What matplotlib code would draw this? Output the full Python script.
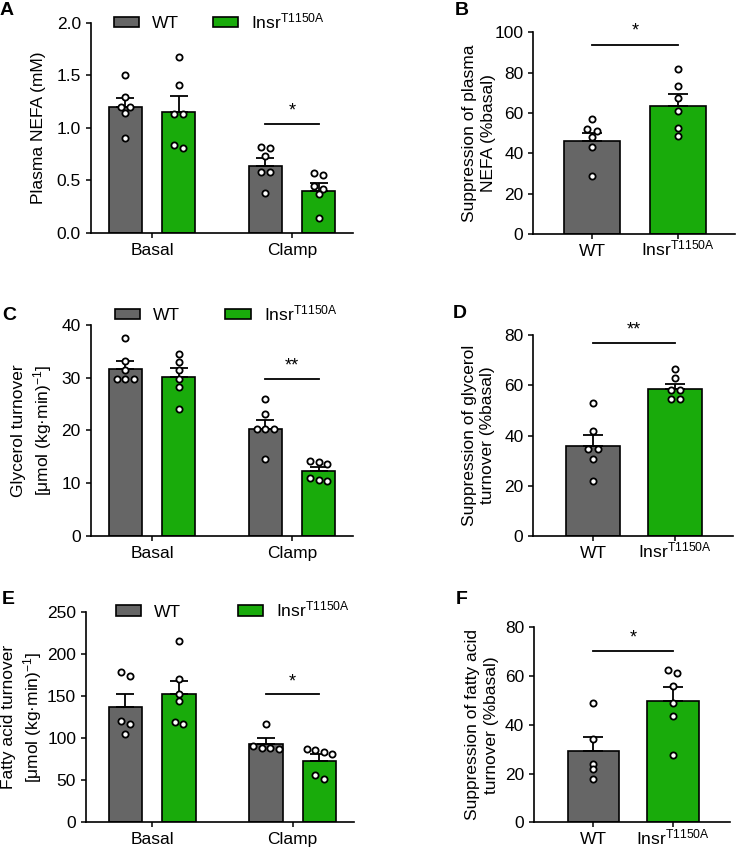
import matplotlib
matplotlib.use("Agg")
import matplotlib.pyplot as plt
import numpy as np
from matplotlib.patches import Patch

plt.rcParams["font.family"] = ["Liberation Sans", "DejaVu Sans"]
plt.rcParams["mathtext.default"] = "regular"

GREY = "#666666"
GREEN = "#19ab0b"
KO = "Insr$^{T1150A}$"

# ---- data ----
groups = ["Basal", "Clamp"]
genotypes = ["WT", KO]

# A: plasma NEFA (mM)
nefa_wt_basal = [1.50, 1.29, 1.20, 1.20, 1.14, 0.90]
nefa_ko_basal = [1.67, 1.41, 1.13, 1.13, 0.835, 0.81]
nefa_wt_clamp = [0.82, 0.81, 0.73, 0.58, 0.58, 0.38]
nefa_ko_clamp = [0.57, 0.55, 0.45, 0.42, 0.37, 0.14]
nefa_mean = [[1.20, 1.15], [0.64, 0.40]]
nefa_sem = [[0.08, 0.15], [0.075, 0.075]]

# B: suppression of NEFA (%basal)
sup_nefa_wt = [57, 52, 51, 48, 43, 29]
sup_nefa_ko = [82, 73.4, 67.4, 61.1, 52.4, 48.4]
sup_nefa_mean = [46, 63.5]
sup_nefa_sem = [4.2, 5.8]

# C: glycerol turnover
gly_wt_basal = [37.5, 33.2, 31.4, 29.7, 29.7, 29.7]
gly_ko_basal = [34.5, 33.0, 31.5, 29.7, 28.2, 24.1]
gly_wt_clamp = [26.0, 23.1, 20.3, 20.3, 20.3, 14.6]
gly_ko_clamp = [14.3, 14.0, 13.6, 11.0, 10.6, 10.4]
gly_mean = [[31.7, 30.1], [20.2, 12.4]]
gly_sem = [[1.5, 1.7], [1.8, 0.7]]

# D: suppression of glycerol turnover (%basal)
sup_gly_wt = [52.8, 41.9, 34.5, 34.5, 30.8, 22.0]
sup_gly_ko = [66.6, 62.8, 58.0, 58.0, 54.4, 54.4]
sup_gly_mean = [35.8, 58.4]
sup_gly_sem = [4.5, 2.1]

# E: fatty acid turnover
fa_wt_basal = [178, 173.6, 119.8, 116.3, 104.4]
fa_ko_basal = [215, 169.7, 152.3, 143.6, 119, 116.6]
fa_wt_clamp = [116.3, 90, 88, 88, 87]
fa_ko_clamp = [87, 86, 84, 81, 55.8, 51.7]
fa_mean = [[137.2, 151.9], [93.3, 73.1]]
fa_sem = [[15.4, 15.8], [6.7, 7.6]]

# F: suppression of fatty acid turnover (%basal)
sup_fa_wt = [49, 34.3, 23.9, 22.0, 17.6]
sup_fa_ko = [62.4, 61.3, 55.9, 49.1, 43.6, 27.6]
sup_fa_mean = [29.1, 49.8]
sup_fa_sem = [6.0, 5.6]

W, H = 736, 848
fig = plt.figure(figsize=(W / 100, H / 100), dpi=100)
FS = 12.5


def make_ax(left, right, top, bottom):
    """axes from pixel box"""
    ax = fig.add_axes([left / W, 1 - bottom / H, (right - left) / W, (bottom - top) / H])
    for s in ["top", "right"]:
        ax.spines[s].set_visible(False)
    for s in ["left", "bottom"]:
        ax.spines[s].set_linewidth(1.2)
    ax.tick_params(width=1.1, length=3.6, labelsize=FS)
    ax.tick_params(axis="x", pad=12)
    return ax


def fix_xlabels(ax):
    # baseline alignment so the superscript label sits level with the plain one
    for t in ax.get_xticklabels():
        t.set_verticalalignment("baseline")


def spread(ax, values, center, step, tol):
    """simple beeswarm: points at similar heights spread sideways"""
    vals = sorted(values, reverse=True)
    rows = []
    for v in vals:
        if rows and abs(rows[-1][-1] - v) < tol:
            rows[-1].append(v)
        else:
            rows.append([v])
    xs, ys = [], []
    for r in rows:
        n = len(r)
        for i, v in enumerate(r):
            xs.append(center + (i - (n - 1) / 2) * step)
            ys.append(v)
    ax.scatter(xs, ys, s=20, facecolor="white", edgecolor="black", linewidth=1.3, zorder=5)


def bar(ax, x, mean, sem, color, width, capsize):
    ax.bar(x, mean, width, color=color, edgecolor="black", linewidth=1.2, zorder=2)
    ax.errorbar(x, mean, yerr=[[0], [sem]], fmt="none", ecolor="black",
                elinewidth=1.3, capsize=capsize, capthick=1.3, zorder=3)


def sig(ax, x0, x1, y, text, dy):
    ax.plot([x0, x1], [y, y], color="black", lw=1.3)
    ax.text((x0 + x1) / 2, y + dy, text, ha="center", va="bottom", fontsize=13)


def group_panel(ax, wt_pts, ko_pts, mean, sem, ymax, ystep, fmt, ylabel, label_x,
                sig_y, stars, legend_x, legend_y, colspace, xlim):
    off, width = 0.19, 0.24
    tol = ymax * 0.02
    for g in range(2):
        bar(ax, g - off, mean[g][0], sem[g][0], GREY, width, 6.5)
        bar(ax, g + off, mean[g][1], sem[g][1], GREEN, width, 6.5)
        spread(ax, wt_pts[g], g - off, 0.06, tol)
        spread(ax, ko_pts[g], g + off, 0.06, tol)
    sig(ax, 1 - off, 1 + off, sig_y, stars, ymax * 0.02)
    ax.set_xlim(*xlim)
    ax.set_ylim(0, ymax)
    ticks = np.arange(0, ymax + ystep / 2, ystep)
    ax.set_yticks(ticks)
    ax.set_yticklabels([fmt.format(v) for v in ticks])
    ax.set_xticks([0, 1])
    ax.set_xticklabels(groups)
    fix_xlabels(ax)
    ax.set_ylabel(ylabel, fontsize=FS, linespacing=1.3)
    ax.yaxis.set_label_coords(label_x, 0.5)
    handles = [Patch(facecolor=GREY, edgecolor="black", linewidth=1.2, label="WT"),
               Patch(facecolor=GREEN, edgecolor="black", linewidth=1.2, label=KO)]
    ax.legend(handles=handles, ncol=2, frameon=False, loc="center left",
              bbox_to_anchor=(legend_x, legend_y), borderpad=0, borderaxespad=0,
              handlelength=1.45, handleheight=0.55, handletextpad=0.75,
              columnspacing=colspace, fontsize=FS)


def pair_panel(ax, wt_pts, ko_pts, mean, sem, ymax, ystep, ylabel, label_x,
               sig_y, stars, xlim):
    width = 0.65
    tol = ymax * 0.02
    bar(ax, 0, mean[0], sem[0], GREY, width, 7)
    bar(ax, 1, mean[1], sem[1], GREEN, width, 7)
    spread(ax, wt_pts, 0, 0.11, tol)
    spread(ax, ko_pts, 1, 0.11, tol)
    sig(ax, 0, 1, sig_y, stars, ymax * 0.025)
    ax.set_xlim(*xlim)
    ax.set_ylim(0, ymax)
    ax.set_yticks(np.arange(0, ymax + ystep / 2, ystep))
    ax.set_xticks([0, 1])
    ax.set_xticklabels(genotypes)
    fix_xlabels(ax)
    ax.set_ylabel(ylabel, fontsize=FS, linespacing=1.3)
    ax.yaxis.set_label_coords(label_x, 0.5)


# ---- A ----
axA = make_ax(90.7, 353, 22.7, 233)
group_panel(axA, [nefa_wt_basal, nefa_wt_clamp], [nefa_ko_basal, nefa_ko_clamp],
            nefa_mean, nefa_sem, 2.0, 0.5, "{:.1f}", "Plasma NEFA (mM)", -0.17,
            1.04, "*", 0.089, 1.006, 1.95, (-0.438, 1.436))

# ---- B ----
axB = make_ax(533.3, 735, 32.3, 234)
pair_panel(axB, sup_nefa_wt, sup_nefa_ko, sup_nefa_mean, sup_nefa_sem, 100, 20,
           "Suppression of plasma\nNEFA (%basal)", -0.185, 93.7, "*", (-0.683, 1.663))

# ---- C ----
axC = make_ax(90.7, 353, 325, 536)
group_panel(axC, [gly_wt_basal, gly_wt_clamp], [gly_ko_basal, gly_ko_clamp],
            gly_mean, gly_sem, 40, 10, "{:.0f}",
            "Glycerol turnover\n[μmol (kg·min)$^{-1}$]", -0.14,
            29.8, "**", 0.093, 1.057, 2.6, (-0.438, 1.436))

# ---- D ----
axD = make_ax(533.3, 733, 335, 536)
pair_panel(axD, sup_gly_wt, sup_gly_ko, sup_gly_mean, sup_gly_sem, 80, 20,
           "Suppression of glycerol\nturnover (%basal)", -0.19, 76.7, "**", (-0.728, 1.707))

# ---- E ----
axE = make_ax(86, 354, 611.7, 822.3)
group_panel(axE, [fa_wt_basal, fa_wt_clamp], [fa_ko_basal, fa_ko_clamp],
            fa_mean, fa_sem, 250, 50, "{:.0f}",
            "Fatty acid turnover\n[μmol (kg·min)$^{-1}$]", -0.155,
            151.9, "*", 0.112, 1.010, 3.25, (-0.471, 1.436))

# ---- F ----
axF = make_ax(534, 730, 627.3, 822.3)
pair_panel(axF, sup_fa_wt, sup_fa_ko, sup_fa_mean, sup_fa_sem, 80, 20,
           "Suppression of fatty acid\nturnover (%basal)", -0.18, 70.2, "*", (-0.747, 1.72))

# panel letters
for lab, (px, py) in zip("ABCDEF", [(0, 2), (455, 2), (2, 307), (453, 305), (2, 591), (456, 591)]):
    fig.text(px / W, 1 - py / H, lab, fontsize=14, fontweight="bold", va="top", ha="left")

plt.savefig("out.png", dpi=100)
